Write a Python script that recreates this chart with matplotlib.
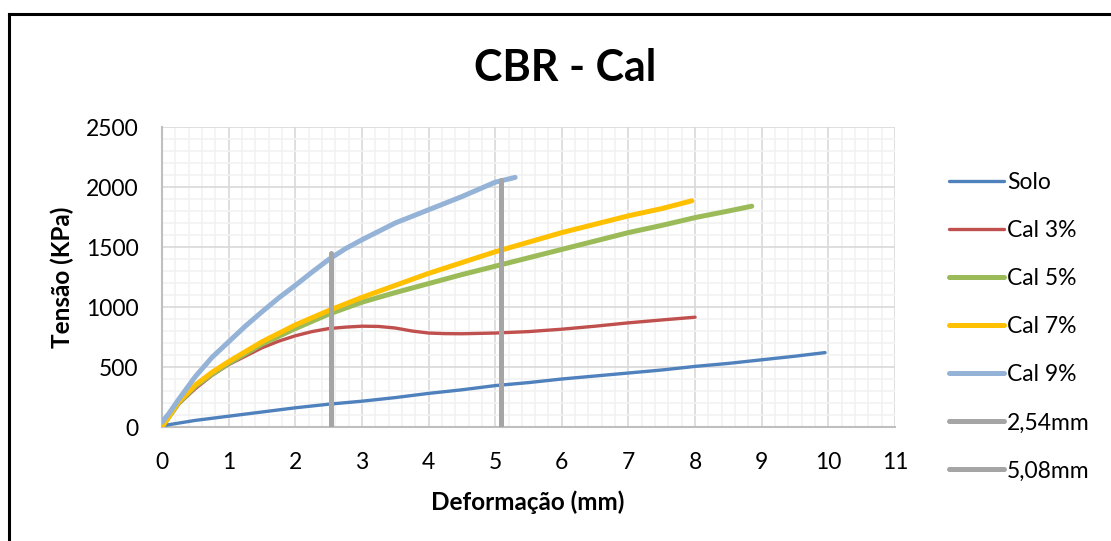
import matplotlib
matplotlib.use("Agg")
import matplotlib.pyplot as plt
from matplotlib.lines import Line2D
from matplotlib.ticker import MultipleLocator

plt.rcParams['font.family'] = ['Lato', 'DejaVu Sans']

# ---- data ----
solo_x = [0, 0.5, 1, 1.5, 2, 2.5, 3, 3.5, 4, 4.5, 5, 5.5, 6, 6.5, 7, 7.5, 8, 8.5, 9, 9.5, 9.95]
solo_y = [10, 55, 90, 125, 160, 190, 215, 245, 280, 310, 345, 370, 400, 425, 450, 475, 505, 530, 560, 590, 620]

cal3_x = [0, 0.25, 0.5, 0.75, 1, 1.25, 1.5, 1.75, 2, 2.25, 2.5, 2.75, 3, 3.25, 3.5, 3.75, 4, 4.25, 4.5, 4.75, 5, 5.5, 6, 6.5, 7, 7.5, 8]
cal3_y = [0, 190, 320, 430, 520, 590, 660, 715, 760, 795, 820, 832, 840, 838, 825, 800, 783, 778, 777, 780, 783, 795, 815, 840, 868, 892, 915]

cal5_x = [0, 0.25, 0.5, 0.75, 1, 1.5, 2, 2.5, 3, 3.5, 4, 4.5, 5, 5.5, 6, 6.5, 7, 7.5, 8, 8.5, 8.85]
cal5_y = [0, 200, 340, 440, 530, 690, 820, 940, 1040, 1120, 1195, 1270, 1340, 1410, 1480, 1550, 1620, 1680, 1745, 1800, 1840]

cal7_x = [0, 0.25, 0.5, 0.75, 1, 1.5, 2, 2.5, 3, 3.5, 4, 4.5, 5, 5.5, 6, 6.5, 7, 7.5, 7.95]
cal7_y = [0, 210, 350, 455, 545, 710, 850, 970, 1080, 1180, 1280, 1370, 1460, 1540, 1620, 1690, 1760, 1820, 1885]

cal9_x = [0, 0.1, 0.25, 0.5, 0.75, 1, 1.25, 1.5, 1.75, 2, 2.25, 2.5, 2.75, 3, 3.5, 4, 4.5, 5, 5.3]
cal9_y = [40, 110, 230, 420, 580, 710, 840, 960, 1075, 1180, 1290, 1395, 1485, 1560, 1700, 1810, 1920, 2040, 2080]

ref_254_x = [2.54, 2.54]
ref_254_y = [0, 1450]
ref_508_x = [5.08, 5.08]
ref_508_y = [0, 2058]

series = [
    ("Solo", solo_x, solo_y, "#4f81bd", 2.4),
    ("Cal 3%", cal3_x, cal3_y, "#c0504d", 2.4),
    ("Cal 5%", cal5_x, cal5_y, "#9bbb59", 3.6),
    ("Cal 7%", cal7_x, cal7_y, "#ffc000", 3.6),
    ("Cal 9%", cal9_x, cal9_y, "#95b3d7", 3.6),
    ("2,54mm", ref_254_x, ref_254_y, "#a5a5a5", 3.6),
    ("5,08mm", ref_508_x, ref_508_y, "#a5a5a5", 3.6),
]

fig = plt.figure(figsize=(11.11, 5.41), dpi=100)
ax = fig.add_axes([162/1111, 1-427/541, (895-162)/1111, (427-127)/541])

for name, xs, ys, c, lw in series:
    ax.plot(xs, ys, color=c, lw=lw, label=name, solid_capstyle='round', zorder=3)

ax.set_xlim(0, 11)
ax.set_ylim(0, 2500)
ax.xaxis.set_major_locator(MultipleLocator(1))
ax.xaxis.set_minor_locator(MultipleLocator(0.2))
ax.yaxis.set_major_locator(MultipleLocator(500))
ax.yaxis.set_minor_locator(MultipleLocator(100))
ax.grid(which='major', color='#d9d9d9', lw=1.2, zorder=1)
ax.grid(which='minor', color='#f2f2f2', lw=1.2, zorder=0)
ax.set_axisbelow(True)
ax.tick_params(which='both', length=0, labelsize=16.5, colors='black')
ax.tick_params(axis='y', pad=17)
ax.tick_params(axis='x', pad=18)
for s in ['top', 'right']:
    ax.spines[s].set_visible(False)
for s in ['left', 'bottom']:
    ax.spines[s].set_color('#bfbfbf')
    ax.spines[s].set_linewidth(1.5)

ax.set_xlabel("Deformação (mm)", fontsize=17.5, fontweight='bold')
ax.set_ylabel("Tensão (KPa)", fontsize=17.5, fontweight='bold')
ax.xaxis.set_label_coords(528/1111, 1-502/541, transform=fig.transFigure)
ax.yaxis.set_label_coords(62/1111, 1-277/541, transform=fig.transFigure)
ax.xaxis.label.set_va('center')
ax.yaxis.label.set_va('center')

fig.text(565/1111, 1-68/541, "CBR - Cal", fontsize=31, fontweight='bold',
         ha='center', va='center')

leg = ax.legend(loc='upper left', bbox_to_anchor=(940/1111, 1-163/541),
                bbox_transform=fig.transFigure, frameon=False, fontsize=16.5,
                handlelength=2.4, handletextpad=0.12, labelspacing=1.18,
                borderaxespad=0)

# figure border (top and left visible)
fig.add_artist(Line2D([9/1111, 1.0], [1-14/541, 1-14/541], transform=fig.transFigure, color='black', lw=2.2))
fig.add_artist(Line2D([9/1111, 9/1111], [0, 1-14/541], transform=fig.transFigure, color='black', lw=2.2))

fig.savefig("out.png", dpi=100)
